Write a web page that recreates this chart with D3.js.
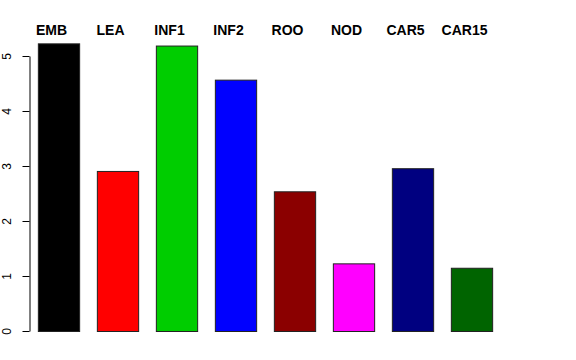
<!DOCTYPE html>
<html>
<head>
<meta charset="utf-8">
<script src="https://cdn.jsdelivr.net/npm/d3@7"></script>
<style>
  body { margin: 0; background: #fff; }
  text { font-family: "Liberation Sans", Arial, sans-serif; }
</style>
</head>
<body>
<script>
const categories = ["EMB", "LEA", "INF1", "INF2", "ROO", "NOD", "CAR5", "CAR15"];
const values = [5.23, 2.91, 5.19, 4.57, 2.54, 1.23, 2.96, 1.15];
const colors = ["#000000", "#FF0000", "#00CD00", "#0000FF", "#8B0000", "#FF00FF", "#000080", "#006400"];
const yTicks = [0, 1, 2, 3, 4, 5];

const width = 576, height = 360;

const svg = d3.select("body").append("svg")
    .attr("width", width)
    .attr("height", height);

// x positions of bars
const x = d3.scaleBand()
    .domain(categories)
    .range([29, 501])
    .paddingInner(0.3)
    .paddingOuter(0.15);

// y: 55px per unit, zero at 331
const y = d3.scaleLinear()
    .domain([0, 5])
    .range([331, 56]);

svg.selectAll("rect.bar")
    .data(categories)
    .enter()
    .append("rect")
        .attr("class", "bar")
        .attr("x", d => x(d) + 0.5)
        .attr("y", (d, i) => y(values[i]) + 0.5)
        .attr("width", x.bandwidth())
        .attr("height", (d, i) => y(0) - y(values[i]))
        .attr("fill", (d, i) => colors[i])
        .attr("stroke", "#222")
        .attr("stroke-width", 1);

// labels on top (sit a little left of bar centre)
svg.selectAll("text.lab")
    .data(categories)
    .enter()
    .append("text")
        .attr("class", "lab")
        .attr("x", d => x(d) + x.bandwidth() / 2 - 7)
        .attr("y", 35)
        .attr("text-anchor", "middle")
        .attr("font-weight", "bold")
        .attr("font-size", 14)
        .text(d => d);

// y axis
const axis = svg.append("g")
    .attr("transform", "translate(29.5,0)")
    .call(d3.axisLeft(y).tickValues(yTicks).tickFormat(d3.format("d")).tickSize(7).tickSizeOuter(0));

axis.select(".domain").attr("stroke", "#000");
axis.selectAll(".tick line").attr("stroke", "#000");
axis.selectAll(".tick text")
    .attr("font-size", 12)
    .attr("font-family", "Liberation Sans, Arial, sans-serif")
    .attr("fill", "#000")
    .attr("transform", "rotate(-90)")
    .attr("x", 0)
    .attr("y", -19)
    .attr("dy", "0")
    .attr("text-anchor", "middle");
</script>
</body>
</html>
